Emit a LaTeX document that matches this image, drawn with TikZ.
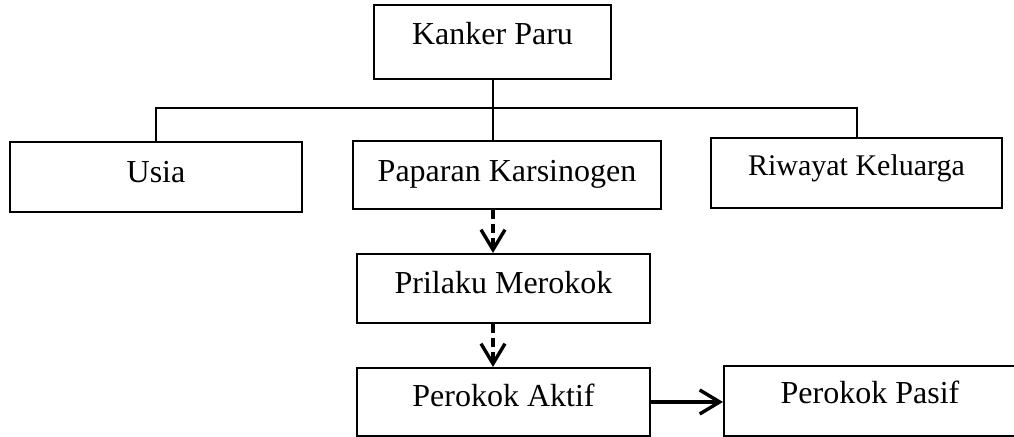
\documentclass[tikz,border=0pt]{standalone}
\usepackage{fontspec}
\setmainfont{Liberation Serif}
\usetikzlibrary{arrows.meta,positioning,calc}
\tikzset{every picture/.style={line width=1pt}}
\tikzset{
  kotak/.style={draw, inner sep=0pt, font=\fontsize{16}{19}\selectfont},
  panah/.style={line width=1.7pt, -{Straight Barb[length=10pt,width=12pt]}},
  putus/.style={dash pattern=on 4.5pt off 2.5pt},
}

\begin{document}
\begin{tikzpicture}[x=0.5pt,y=-0.5pt]
    \useasboundingbox (0,0) rectangle (1014,437);
    % faktor risiko
    \node[kotak, minimum width=118.5pt, text height=20pt, text depth=17pt] (kanker) at (492.5,42) {Kanker Paru};
    \node[kotak, minimum width=146pt, text height=20.5pt, text depth=14.5pt] (usia) at (156,177) {Usia};
    \node[kotak, minimum width=154pt, text height=20.5pt, text depth=13.5pt] (paparan) at (507,175) {Paparan Karsinogen};
    \node[kotak, minimum width=145.5pt, text height=19pt, text depth=16pt, font=\fontsize{15}{18}\selectfont] (riwayat) at (856.5,173) {Riwayat Keluarga};
    \node[kotak, minimum width=146.5pt, text height=20pt, text depth=14.5pt] (prilaku) at (503.5,288.5) {Prilaku Merokok};
    \node[kotak, minimum width=146.5pt, text height=19.5pt, text depth=14.5pt] (aktif) at (503.5,402) {Perokok Aktif};
    \node[kotak, minimum width=146pt, text height=19pt, text depth=16pt] (pasif) at (870,401) {Perokok Pasif};

    \coordinate (cabang) at (493,108);
    \draw (kanker.south -| cabang) -- (cabang);
    \draw (usia.north) |- (cabang) -| (riwayat.north);
    \draw (cabang) -- (cabang |- paparan.north);

    % alur merokok
    \draw[panah, putus] (paparan.south -| cabang) -- (prilaku.north -| cabang);
    \draw[panah, putus] (prilaku.south -| cabang) -- (aktif.north -| cabang);
    \draw[panah] (aktif.east) -- (aktif.east -| pasif.west);
\end{tikzpicture}
\end{document}
